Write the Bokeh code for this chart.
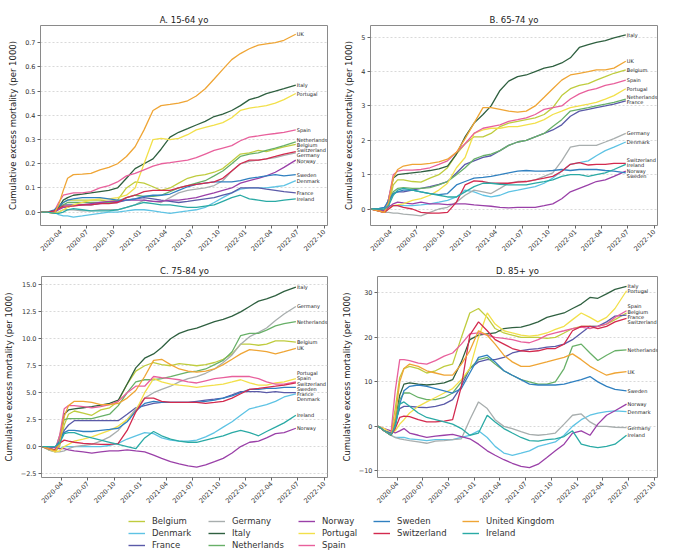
import math
from datetime import datetime
from bokeh.plotting import figure
from bokeh.layouts import column, row
from bokeh.models import (Range1d, FixedTicker, DatetimeTickFormatter, CustomJSTickFormatter,
                          Legend, LegendItem)
from bokeh.core.properties import value
from bokeh.embed import file_html
from bokeh.resources import INLINE

# ---------------- data ----------------
DATES = ["2020-01-25", "2020-02-15", "2020-03-10", "2020-03-25", "2020-04-10", "2020-04-25",
         "2020-05-15", "2020-06-15", "2020-07-15", "2020-08-15", "2020-09-15", "2020-10-15",
         "2020-11-15", "2020-12-15", "2021-01-15", "2021-02-15", "2021-03-15", "2021-04-15",
         "2021-05-15", "2021-06-15", "2021-07-15", "2021-08-15", "2021-09-15", "2021-10-15",
         "2021-11-15", "2021-12-15", "2022-01-15", "2022-02-15", "2022-03-15", "2022-04-15",
         "2022-05-15", "2022-06-25"]

COUNTRIES = ["Belgium", "Denmark", "France", "Germany", "Italy", "Netherlands", "Norway",
             "Portugal", "Spain", "Sweden", "Switzerland", "United Kingdom", "Ireland"]
END_LABELS = ["Belgium", "Denmark", "France", "Germany", "Italy", "Netherlands", "Norway",
              "Portugal", "Spain", "Sweden", "Switzerland", "UK", "Ireland"]
COLORS = ["#bfcc3e", "#5ec3e4", "#5a5aa8", "#a8aeae", "#2f6040", "#68b068", "#9a40a8",
          "#f2e04a", "#e8609c", "#3080c0", "#d32a4e", "#efa535", "#2aaaa5"]

TITLES = ["A. 15-64 yo", "B. 65-74 yo", "C. 75-84 yo", "D. 85+ yo"]
Y_LABEL = "Cumulative excess mortality (per 1000)"
X_TICKS = ["2020-04", "2020-07", "2020-10", "2021-01", "2021-04", "2021-07", "2021-10",
           "2022-01", "2022-04", "2022-07", "2022-10"]
A_YTICKS = [0.0, 0.1, 0.2, 0.3, 0.4, 0.5, 0.6, 0.7]
B_YTICKS = [0, 1, 2, 3, 4, 5]
C_YTICKS = [-2.5, 0.0, 2.5, 5.0, 7.5, 10.0, 12.5, 15.0]
D_YTICKS = [-10, 0, 10, 20, 30]

# Panel A: 15-64
A_BELGIUM = [0, 0, 0, 0.02, 0.04, 0.05, 0.05, 0.05, 0.05, 0.05, 0.045, 0.05, 0.1, 0.125, 0.12, 0.105, 0.09, 0.1, 0.12, 0.14, 0.15, 0.155, 0.165, 0.18, 0.21, 0.24, 0.245, 0.255, 0.25, 0.26, 0.27, 0.28]
A_DENMARK = [0, 0, 0, -0.01, -0.015, -0.015, -0.02, -0.015, -0.01, -0.005, 0, 0, 0.005, 0.01, 0.01, 0.005, 0, -0.005, 0, 0.005, 0.01, 0.02, 0.04, 0.06, 0.08, 0.095, 0.1, 0.1, 0.1, 0.105, 0.11, 0.13]
A_FRANCE = [0, 0, 0.005, 0.02, 0.03, 0.03, 0.03, 0.03, 0.03, 0.035, 0.04, 0.04, 0.05, 0.055, 0.06, 0.055, 0.05, 0.045, 0.04, 0.045, 0.05, 0.055, 0.06, 0.07, 0.08, 0.1, 0.1, 0.1, 0.095, 0.09, 0.085, 0.08]
A_GERMANY = [0, 0, -0.005, 0, 0.01, 0.01, 0.01, 0.005, 0.005, 0.01, 0.01, 0.01, 0.02, 0.03, 0.05, 0.045, 0.04, 0.06, 0.08, 0.09, 0.095, 0.1, 0.11, 0.13, 0.17, 0.2, 0.21, 0.215, 0.22, 0.225, 0.235, 0.245]
A_ITALY = [0, 0, 0, 0.02, 0.05, 0.06, 0.07, 0.075, 0.08, 0.085, 0.09, 0.1, 0.14, 0.18, 0.2, 0.22, 0.26, 0.31, 0.33, 0.345, 0.36, 0.375, 0.395, 0.405, 0.42, 0.44, 0.465, 0.475, 0.49, 0.5, 0.51, 0.525]
A_NETHERLANDS = [0, 0, 0, 0.015, 0.03, 0.04, 0.04, 0.04, 0.04, 0.04, 0.04, 0.045, 0.06, 0.07, 0.065, 0.065, 0.07, 0.085, 0.1, 0.11, 0.12, 0.13, 0.15, 0.17, 0.2, 0.23, 0.24, 0.245, 0.255, 0.265, 0.275, 0.29]
A_NORWAY = [0, 0, 0, 0.01, 0.02, 0.02, 0.03, 0.03, 0.035, 0.04, 0.045, 0.045, 0.05, 0.05, 0.05, 0.045, 0.045, 0.05, 0.05, 0.055, 0.06, 0.07, 0.08, 0.09, 0.1, 0.12, 0.13, 0.14, 0.15, 0.165, 0.185, 0.215]
A_PORTUGAL = [0, 0, -0.005, 0, 0.01, 0.02, 0.03, 0.04, 0.05, 0.055, 0.055, 0.06, 0.07, 0.1, 0.2, 0.3, 0.305, 0.3, 0.305, 0.32, 0.34, 0.35, 0.36, 0.37, 0.39, 0.42, 0.43, 0.435, 0.44, 0.45, 0.465, 0.49]
A_SPAIN = [0, 0, 0.005, 0.04, 0.07, 0.075, 0.08, 0.08, 0.085, 0.1, 0.11, 0.125, 0.15, 0.16, 0.175, 0.19, 0.2, 0.205, 0.21, 0.215, 0.225, 0.24, 0.255, 0.265, 0.275, 0.295, 0.31, 0.315, 0.32, 0.325, 0.33, 0.34]
A_SWEDEN = [0, 0, 0.01, 0.025, 0.04, 0.05, 0.055, 0.06, 0.06, 0.06, 0.055, 0.05, 0.05, 0.055, 0.065, 0.07, 0.07, 0.075, 0.09, 0.105, 0.115, 0.12, 0.125, 0.125, 0.125, 0.13, 0.14, 0.145, 0.15, 0.155, 0.15, 0.155]
A_SWITZERLAND = [0, 0, 0.005, 0.015, 0.025, 0.025, 0.025, 0.03, 0.03, 0.035, 0.035, 0.04, 0.06, 0.07, 0.085, 0.09, 0.09, 0.09, 0.1, 0.11, 0.115, 0.12, 0.125, 0.14, 0.17, 0.2, 0.215, 0.215, 0.22, 0.23, 0.24, 0.25]
A_UK = [0, 0, -0.005, 0.03, 0.09, 0.14, 0.155, 0.157, 0.16, 0.175, 0.185, 0.2, 0.23, 0.27, 0.34, 0.42, 0.44, 0.445, 0.45, 0.46, 0.48, 0.51, 0.55, 0.59, 0.63, 0.655, 0.675, 0.69, 0.695, 0.7, 0.71, 0.735]
A_IRELAND = [0, 0, -0.005, -0.005, 0, 0.01, 0.015, 0.01, 0.005, 0.005, 0.005, 0.01, 0.02, 0.03, 0.04, 0.035, 0.03, 0.03, 0.025, 0.02, 0.02, 0.025, 0.03, 0.045, 0.06, 0.07, 0.055, 0.05, 0.045, 0.045, 0.05, 0.055]

# Panel B: 65-74
B_BELGIUM = [0, -0.05, -0.1, 0.1, 0.7, 0.85, 0.85, 0.8, 0.78, 0.9, 1.0, 1.2, 1.6, 1.9, 2.1, 2.1, 2.2, 2.4, 2.5, 2.55, 2.6, 2.65, 2.75, 2.95, 3.3, 3.5, 3.6, 3.65, 3.75, 3.85, 3.95, 4.05]
B_DENMARK = [0, 0, 0.05, 0.1, 0.1, 0.1, 0.1, 0.1, 0.12, 0.15, 0.2, 0.25, 0.35, 0.55, 0.5, 0.4, 0.35, 0.4, 0.5, 0.55, 0.6, 0.65, 0.75, 0.9, 1.1, 1.3, 1.35, 1.4, 1.55, 1.7, 1.8, 1.95]
B_FRANCE = [0, 0, -0.05, 0.2, 0.45, 0.5, 0.5, 0.55, 0.6, 0.65, 0.72, 0.8, 1.05, 1.3, 1.4, 1.5, 1.55, 1.7, 1.85, 1.95, 2.0, 2.1, 2.2, 2.3, 2.45, 2.7, 2.85, 2.9, 2.95, 3.0, 3.05, 3.15]
B_GERMANY = [0, -0.05, -0.1, -0.1, -0.12, -0.12, -0.15, -0.17, -0.2, -0.1, 0.0, 0.05, 0.2, 0.4, 0.55, 0.5, 0.45, 0.6, 0.75, 0.8, 0.8, 0.85, 0.95, 1.05, 1.4, 1.8, 1.85, 1.85, 1.85, 1.95, 2.05, 2.2]
B_ITALY = [0, -0.05, -0.1, 0.3, 0.9, 1.0, 1.02, 1.05, 1.08, 1.12, 1.17, 1.25, 1.6, 2.1, 2.5, 2.75, 3.0, 3.45, 3.72, 3.85, 3.9, 4.0, 4.1, 4.15, 4.25, 4.4, 4.7, 4.78, 4.85, 4.9, 4.98, 5.07]
B_NETHERLANDS = [0, 0, -0.05, 0.2, 0.5, 0.6, 0.62, 0.6, 0.6, 0.62, 0.7, 0.8, 1.0, 1.2, 1.45, 1.55, 1.6, 1.7, 1.85, 1.95, 2.0, 2.1, 2.2, 2.4, 2.6, 2.85, 2.9, 2.95, 3.0, 3.05, 3.1, 3.2]
B_NORWAY = [0, 0, -0.05, 0.05, 0.15, 0.2, 0.18, 0.15, 0.2, 0.15, 0.15, 0.13, 0.15, 0.15, 0.12, 0.1, 0.08, 0.05, 0.03, 0.05, 0.05, 0.05, 0.1, 0.15, 0.3, 0.5, 0.6, 0.7, 0.8, 0.85, 0.95, 1.1]
B_PORTUGAL = [0, -0.05, -0.1, 0, 0.1, 0.12, 0.15, 0.25, 0.3, 0.4, 0.55, 0.75, 1.2, 1.5, 2.2, 2.3, 2.35, 2.35, 2.4, 2.4, 2.45, 2.5, 2.6, 2.75, 2.85, 2.95, 3.0, 3.05, 3.1, 3.2, 3.3, 3.5]
B_SPAIN = [0, -0.05, -0.1, 0.3, 1.0, 1.1, 1.13, 1.13, 1.15, 1.2, 1.3, 1.4, 1.65, 1.9, 2.2, 2.35, 2.4, 2.45, 2.55, 2.6, 2.65, 2.75, 2.9, 2.95, 3.0, 3.2, 3.35, 3.45, 3.5, 3.6, 3.65, 3.75]
B_SWEDEN = [0, 0, 0.05, 0.25, 0.45, 0.5, 0.55, 0.55, 0.5, 0.45, 0.42, 0.45, 0.7, 0.8, 0.9, 0.92, 0.95, 1.0, 1.05, 1.1, 1.12, 1.1, 1.1, 1.12, 1.15, 1.12, 1.15, 1.15, 1.15, 1.12, 1.1, 1.05]
B_SWITZERLAND = [0, -0.05, -0.1, 0, 0.1, 0.1, 0.05, 0, -0.1, -0.12, -0.12, -0.1, 0.2, 0.7, 0.82, 0.8, 0.75, 0.75, 0.75, 0.78, 0.8, 0.85, 0.9, 0.95, 1.1, 1.3, 1.35, 1.28, 1.3, 1.3, 1.33, 1.33]
B_UK = [0, -0.05, -0.1, 0.2, 0.9, 1.15, 1.25, 1.3, 1.3, 1.33, 1.37, 1.45, 1.65, 2.05, 2.5, 2.95, 2.95, 2.9, 2.85, 2.82, 2.85, 3.0, 3.25, 3.5, 3.75, 3.9, 3.95, 4.0, 4.05, 4.05, 4.1, 4.3]
B_IRELAND = [0, 0, 0, 0.1, 0.4, 0.55, 0.6, 0.55, 0.5, 0.45, 0.4, 0.35, 0.35, 0.5, 0.65, 0.75, 0.75, 0.72, 0.7, 0.7, 0.7, 0.75, 0.8, 0.85, 0.95, 1.0, 1.0, 0.95, 1.0, 1.05, 1.15, 1.3]

# Panel C: 75-84
C_BELGIUM = [0, -0.3, -0.5, 0, 2.0, 3.0, 3.3, 3.1, 2.9, 3.4, 3.6, 4.2, 5.8, 7.0, 7.5, 7.8, 7.6, 7.5, 7.7, 7.6, 7.5, 7.6, 7.8, 8.1, 8.6, 9.5, 9.5, 9.4, 9.5, 9.8, 9.8, 9.7]
C_DENMARK = [0, 0, -0.1, -0.2, 0, 0, 0, 0, 0, 0, 0.1, 0.3, 0.7, 1.0, 1.3, 1.2, 0.8, 0.6, 0.5, 0.5, 0.6, 0.9, 1.3, 1.8, 2.3, 2.9, 3.5, 3.7, 3.9, 4.2, 4.6, 4.9]
C_FRANCE = [0, 0, -0.1, 0.3, 1.5, 2.0, 2.4, 2.4, 2.4, 2.4, 2.4, 2.4, 3.0, 3.6, 3.8, 4.0, 4.1, 4.1, 4.1, 4.1, 4.2, 4.3, 4.4, 4.5, 4.8, 5.1, 5.1, 5.1, 5.0, 5.1, 5.0, 5.0]
C_GERMANY = [0, -0.3, -0.5, -0.5, -0.4, -0.2, 0, 0.1, 0.2, 0.5, 0.9, 1.5, 2.5, 3.5, 4.5, 5.0, 5.3, 5.6, 6.0, 6.3, 6.5, 6.8, 7.2, 7.8, 8.5, 9.5, 10.2, 10.6, 11.0, 11.7, 12.3, 13.0]
C_ITALY = [0, -0.2, -0.3, 0.5, 3.0, 3.4, 3.5, 3.6, 3.7, 3.85, 4.0, 4.3, 5.8, 7.3, 8.2, 8.6, 9.2, 10.0, 10.5, 10.8, 11.0, 11.3, 11.6, 11.8, 12.1, 12.5, 13.0, 13.5, 13.7, 14.0, 14.4, 14.8]
C_NETHERLANDS = [0, -0.2, -0.3, 1.0, 2.5, 2.6, 2.6, 2.6, 2.6, 2.8, 3.0, 3.8, 5.0, 6.0, 6.2, 6.2, 6.3, 6.5, 6.7, 6.9, 7.0, 7.2, 7.6, 8.0, 8.8, 10.3, 10.5, 10.5, 10.8, 11.2, 11.4, 11.6]
C_NORWAY = [0, 0, -0.1, -0.2, -0.2, -0.3, -0.4, -0.5, -0.6, -0.5, -0.4, -0.4, -0.3, -0.4, -0.5, -0.8, -1.1, -1.4, -1.6, -1.8, -1.9, -1.7, -1.4, -1.1, -0.6, 0, 0.4, 0.5, 0.8, 1.2, 1.3, 1.7]
C_PORTUGAL = [0, -0.2, -0.5, -0.4, 0, 0.2, 0.5, 0.7, 0.9, 1.2, 1.5, 1.9, 2.5, 3.3, 5.0, 6.3, 6.0, 5.8, 5.7, 5.6, 5.5, 5.6, 5.7, 5.8, 6.0, 6.2, 5.9, 5.7, 5.7, 5.9, 6.0, 6.3]
C_SPAIN = [0, -0.2, -0.3, 1.0, 3.5, 3.8, 3.8, 3.7, 3.6, 3.7, 3.9, 4.2, 5.0, 5.6, 5.6, 6.5, 6.4, 6.3, 6.2, 6.0, 5.9, 6.1, 6.3, 6.4, 6.5, 6.5, 6.5, 6.3, 6.0, 5.8, 5.8, 6.0]
C_SWEDEN = [0, 0, 0, 0.5, 1.3, 1.5, 1.5, 1.4, 1.4, 1.5, 1.6, 1.7, 2.3, 3.3, 4.0, 4.2, 4.1, 4.1, 4.1, 4.1, 4.1, 4.2, 4.3, 4.5, 4.7, 5.0, 5.3, 5.3, 5.4, 5.4, 5.5, 5.5]
C_SWITZERLAND = [0, -0.2, -0.3, 0.3, 0.6, 0.5, 0.4, 0.3, 0.25, 0.2, 0.2, 0.3, 1.5, 3.2, 4.5, 4.5, 4.2, 4.1, 4.1, 4.1, 4.1, 4.0, 4.1, 4.2, 4.5, 4.9, 5.3, 5.4, 5.5, 5.6, 5.7, 5.9]
C_UK = [0, -0.2, -0.4, 0.3, 2.8, 3.8, 4.2, 4.2, 4.1, 3.9, 3.9, 4.0, 4.5, 5.2, 6.5, 8.0, 8.1, 7.6, 7.2, 7.0, 6.9, 7.0, 7.2, 7.6, 8.1, 8.6, 9.0, 8.9, 8.8, 8.6, 8.8, 9.1]
C_IRELAND = [0, 0, 0, 0.3, 1.2, 1.3, 1.3, 1.0, 0.8, 0.6, 0.4, 0.2, 0, -0.2, 0.8, 1.4, 1.0, 0.7, 0.5, 0.4, 0.4, 0.6, 0.8, 1.0, 1.3, 1.5, 1.3, 1.0, 1.4, 1.8, 2.2, 2.9]

# Panel D: 85+
D_BELGIUM = [0, -1.0, -1.5, 4.0, 11.0, 13.0, 13.5, 13.0, 12.0, 12.5, 13.5, 14.0, 20.0, 25.5, 26.5, 24.5, 22.0, 21.0, 20.5, 20.0, 20.0, 20.0, 19.8, 20.0, 21.0, 22.0, 22.5, 22.5, 22.5, 23.0, 24.0, 25.5]
D_DENMARK = [0, -1.0, -2.0, -2.5, -2.5, -2.5, -2.8, -3.0, -3.2, -3.0, -3.0, -3.0, -2.5, -2.0, -1.0, -2.5, -4.5, -6.0, -6.5, -6.0, -5.5, -4.5, -4.0, -3.5, -2.0, 0.0, 1.5, 2.5, 3.0, 3.3, 3.5, 3.3]
D_FRANCE = [0, -1.0, -1.5, 1.0, 4.0, 4.5, 4.5, 4.3, 4.2, 4.5, 5.0, 6.0, 9.0, 13.0, 14.5, 15.0, 15.0, 15.5, 16.5, 17.0, 17.3, 17.5, 17.8, 18.0, 18.5, 19.5, 21.0, 22.5, 22.5, 23.5, 24.8, 25.0]
D_GERMANY = [0, -1.0, -2.0, -2.5, -2.8, -3.0, -3.2, -3.5, -3.8, -3.3, -3.2, -3.0, -2.8, 1.5, 5.5, 4.0, 1.5, 0.0, -0.5, -1.2, -1.8, -2.0, -1.8, -1.5, 0.5, 2.5, 2.8, 1.0, 0.0, 0.0, -0.2, -0.3]
D_ITALY = [0, -1.0, -2.0, 1.0, 7.0, 9.5, 9.8, 9.5, 9.3, 9.5, 9.8, 10.5, 14.5, 19.5, 20.5, 20.8, 21.0, 22.0, 22.2, 22.3, 22.8, 23.5, 24.5, 25.0, 25.5, 26.5, 27.5, 29.0, 28.8, 29.8, 30.8, 31.5]
D_NETHERLANDS = [0, -1.0, -2.0, 1.0, 6.0, 7.5, 7.5, 6.5, 6.0, 6.0, 6.5, 7.5, 10.0, 13.0, 15.0, 15.5, 14.0, 12.5, 11.5, 10.5, 10.0, 9.5, 9.5, 10.0, 13.0, 18.0, 18.5, 16.5, 14.8, 16.0, 17.0, 17.2]
D_NORWAY = [0, -0.5, -1.0, -1.5, -1.0, -0.5, -1.5, -2.0, -2.5, -2.2, -2.0, -1.8, -2.3, -2.8, -4.0, -5.5, -6.5, -7.5, -8.3, -9.0, -9.3, -8.5, -7.0, -5.5, -4.0, -1.5, -1.0, -2.0, 0.5, 2.5, 3.5, 5.0]
D_PORTUGAL = [0, -0.5, -1.5, -1.0, 0.5, 1.5, 3.0, 4.5, 5.5, 6.5, 7.5, 8.5, 10.5, 13.0, 20.0, 25.5, 23.0, 21.5, 21.0, 20.5, 20.3, 20.5, 21.0, 21.8, 22.5, 24.0, 25.5, 24.5, 23.5, 24.5, 26.5, 30.5]
D_SPAIN = [0, -1.0, -1.5, 8.0, 15.0, 15.0, 14.8, 14.2, 14.0, 14.8, 15.8, 16.5, 18.5, 20.8, 21.0, 20.5, 20.0, 19.8, 19.5, 19.0, 18.8, 19.5, 20.5, 21.0, 21.5, 22.0, 22.3, 22.0, 22.5, 23.0, 24.5, 26.0]
D_SWEDEN = [0, -1.0, -1.5, 0.0, 5.0, 8.0, 9.0, 9.3, 9.0, 8.5, 8.0, 7.5, 8.5, 12.0, 15.5, 16.0, 14.5, 12.5, 11.5, 10.5, 9.5, 9.3, 9.3, 9.3, 9.5, 10.0, 10.5, 11.2, 10.0, 9.0, 8.3, 8.0]
D_SWITZERLAND = [0, -1.0, -2.0, -0.5, 2.0, 2.3, 2.2, 1.5, 1.0, 1.0, 1.2, 1.5, 9.0, 20.5, 23.5, 21.5, 19.5, 18.5, 17.5, 17.0, 16.8, 17.0, 17.5, 17.5, 18.5, 21.5, 22.5, 22.5, 22.0, 22.5, 23.5, 24.3]
D_UK = [0, -1.0, -2.0, 2.0, 10.0, 13.0, 14.0, 13.5, 12.5, 12.0, 11.5, 11.5, 14.0, 17.0, 21.5, 20.5, 18.5, 16.0, 14.5, 13.5, 13.5, 14.0, 14.5, 15.0, 15.5, 16.3, 15.0, 13.5, 12.5, 11.5, 12.0, 12.3]
D_IRELAND = [0, -1.0, -2.0, 0.0, 5.0, 5.5, 4.5, 3.0, 2.0, 1.5, 1.0, 0.5, -0.5, -2.0, -1.5, 2.5, 1.0, -0.5, -1.5, -2.5, -3.2, -3.3, -3.0, -2.8, -2.3, -1.0, -4.0, -4.5, -4.8, -4.5, -4.0, -2.0]

PANEL_A = [A_BELGIUM, A_DENMARK, A_FRANCE, A_GERMANY, A_ITALY, A_NETHERLANDS, A_NORWAY,
           A_PORTUGAL, A_SPAIN, A_SWEDEN, A_SWITZERLAND, A_UK, A_IRELAND]
PANEL_B = [B_BELGIUM, B_DENMARK, B_FRANCE, B_GERMANY, B_ITALY, B_NETHERLANDS, B_NORWAY,
           B_PORTUGAL, B_SPAIN, B_SWEDEN, B_SWITZERLAND, B_UK, B_IRELAND]
PANEL_C = [C_BELGIUM, C_DENMARK, C_FRANCE, C_GERMANY, C_ITALY, C_NETHERLANDS, C_NORWAY,
           C_PORTUGAL, C_SPAIN, C_SWEDEN, C_SWITZERLAND, C_UK, C_IRELAND]
PANEL_D = [D_BELGIUM, D_DENMARK, D_FRANCE, D_GERMANY, D_ITALY, D_NETHERLANDS, D_NORWAY,
           D_PORTUGAL, D_SPAIN, D_SWEDEN, D_SWITZERLAND, D_UK, D_IRELAND]

# ---------------- helpers ----------------
FONT = "DejaVu Sans"
X_DATES = [datetime.strptime(d, "%Y-%m-%d") for d in DATES]
X_START = datetime(2020, 1, 22)
X_END = datetime(2022, 10, 13)
TICK_MS = [datetime.strptime(t + "-01", "%Y-%m-%d").timestamp() * 1000 for t in X_TICKS]


def spread_labels(vals, ymin, ymax, hpx, gap=5.2):
    px = [(v - ymin) / (ymax - ymin) * hpx for v in vals]
    order = sorted(range(len(vals)), key=lambda i: px[i])
    pos = [px[i] for i in order]
    for _ in range(400):
        moved = False
        for k in range(1, len(pos)):
            d = pos[k] - pos[k - 1]
            if d < gap - 1e-6:
                s = (gap - d) / 2
                pos[k] += s
                pos[k - 1] -= s
                moved = True
        if not moved:
            break
    out = [0] * len(vals)
    for j, i in enumerate(order):
        out[i] = pos[j] / hpx * (ymax - ymin) + ymin
    return out


def make_panel(title, series, yr, yticks, decimals, width, height, bl, br, bt, bb):
    p = figure(width=width, height=height, x_axis_type="datetime",
               x_range=Range1d(X_START, X_END), y_range=Range1d(yr[0], yr[1]),
               output_backend="svg", toolbar_location=None,
               min_border_left=bl, min_border_right=br, min_border_top=bt, min_border_bottom=bb)
    p.title.text = title
    p.title.align = "center"
    p.title.text_font = FONT
    p.title.text_font_size = "8.5px"
    p.title.text_font_style = "normal"
    p.title.text_color = "#222222"
    p.title.standoff = 2
    p.outline_line_color = "#8a8a8a"
    p.outline_line_width = 1
    p.background_fill_color = "white"
    p.border_fill_color = "white"

    p.xgrid.visible = False
    p.ygrid.grid_line_color = "#cfcfcf"
    p.ygrid.grid_line_dash = "2 2"
    p.ygrid.grid_line_width = 0.8

    p.xaxis.ticker = FixedTicker(ticks=TICK_MS)
    fmt = "%Y-%m"
    p.xaxis.formatter = DatetimeTickFormatter(years=fmt, months=fmt, days=fmt, hours=fmt,
                                              minutes=fmt, seconds=fmt, milliseconds=fmt,
                                              microseconds=fmt, hourmin=fmt, minsec=fmt)
    p.xaxis.major_label_orientation = math.pi / 4
    p.yaxis.ticker = FixedTicker(ticks=yticks)
    p.yaxis.formatter = CustomJSTickFormatter(
        args=dict(dec=decimals),
        code="const s = Math.abs(tick).toFixed(dec); return (tick < -1e-9 ? '\u2212' : '') + s;")
    for ax in (p.xaxis[0], p.yaxis[0]):
        ax.axis_line_color = None
        ax.major_tick_out = 3
        ax.major_tick_in = 0
        ax.minor_tick_out = 0
        ax.minor_tick_in = 0
        ax.major_tick_line_color = "#666666"
        ax.major_label_text_font = FONT
        ax.major_label_text_font_size = "6.5px"
        ax.major_label_text_color = "#333333"
        ax.major_label_standoff = 2
    p.yaxis.axis_label = Y_LABEL
    p.yaxis.axis_label_text_font = FONT
    p.yaxis.axis_label_text_font_size = "8.5px"
    p.yaxis.axis_label_text_font_style = "normal"
    p.yaxis.axis_label_text_color = "#222222"
    p.yaxis.axis_label_standoff = 4

    for vals, col in zip(series, COLORS):
        p.line(x=X_DATES, y=vals, line_color=col, line_width=1.3)

    hpx = height - bt - bb
    last = [s[-1] for s in series]
    ly = spread_labels(last, yr[0], yr[1], hpx)
    p.text(x=[X_DATES[-1]] * len(series), y=ly, text=END_LABELS, x_offset=1,
           text_font=value(FONT), text_font_size="5px", text_color="#222222",
           text_baseline="middle", text_align="left")
    return p


# page origin is at (0, 0): Bokeh's standalone template removes the body margin
pA = make_panel(TITLES[0], PANEL_A, (-0.055, 0.771), A_YTICKS, 1, 338, 258, 40, 11, 25, 33)
pB = make_panel(TITLES[1], PANEL_B, (-0.48, 5.34), B_YTICKS, 0, 340, 258, 32, 21, 25, 33)
pC = make_panel(TITLES[2], PANEL_C, (-2.87, 15.78), C_YTICKS, 1, 338, 250, 40, 11, 17, 30)
pD = make_panel(TITLES[3], PANEL_D, (-11.5, 33.7), D_YTICKS, 0, 340, 250, 32, 21, 18, 31)

# ---------------- legend strip ----------------
pL = figure(width=678, height=44, x_range=Range1d(0, 1), y_range=Range1d(0, 1),
            output_backend="svg", toolbar_location=None, x_axis_location=None,
            y_axis_location=None, min_border=0)
pL.outline_line_color = None
pL.xgrid.visible = False
pL.ygrid.visible = False
dummy = [pL.line(x=[5, 6], y=[5, 6], line_color=c, line_width=1.4) for c in COLORS]
col_groups = [[0, 1, 2], [3, 4, 5], [6, 7, 8], [9, 10], [11, 12]]
col_x = [128, 208, 298, 373, 462]
for xg, grp in zip(col_x, col_groups):
    items = [LegendItem(label=COUNTRIES[i], renderers=[dummy[i]]) for i in grp]
    lg = Legend(items=items, location=(xg, 1 + 12 * (3 - len(grp))), orientation="vertical",
                border_line_color=None, background_fill_alpha=0, padding=0, margin=0,
                spacing=0, glyph_width=17, glyph_height=12, label_height=12,
                label_standoff=7, label_text_font=FONT, label_text_font_size="8.5px",
                label_text_color="#333333")
    pL.add_layout(lg, "center")

layout = column(row(pA, pB), row(pC, pD), pL)
open("out.html", "w").write(file_html(layout, INLINE))
